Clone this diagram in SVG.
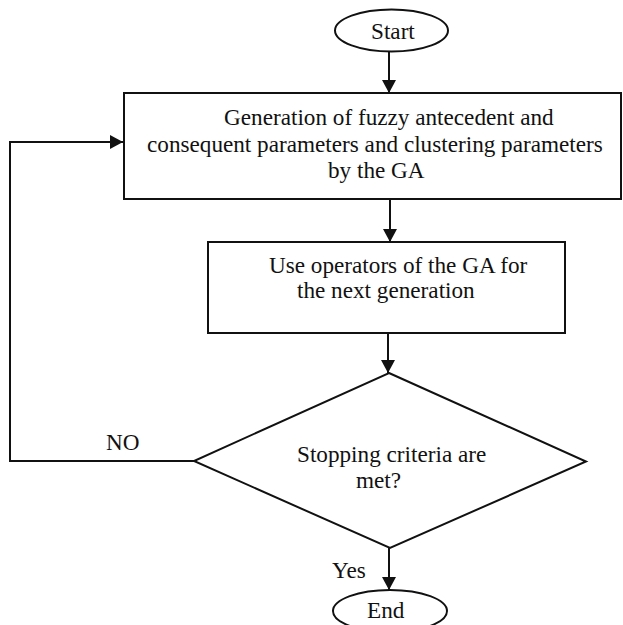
<svg xmlns="http://www.w3.org/2000/svg" width="623" height="625" viewBox="0 0 623 625">
<style>
.shape{fill:#fff;stroke:#111;stroke-width:2}
.conn{fill:none;stroke:#111;stroke-width:2}
.t{font-family:'Liberation Serif','DejaVu Serif',serif;font-size:23.2px;fill:#111}
</style>
<defs>
<marker id="arr" markerUnits="userSpaceOnUse" markerWidth="14" markerHeight="14" refX="13" refY="7" orient="auto">
<path d="M0,0 L13,7 L0,14 z" fill="#111"/>
</marker>
</defs>
<rect width="623" height="625" fill="#fff"/>
<g id="start">
<ellipse class="shape" cx="391.5" cy="30.5" rx="56.5" ry="21"/>
<text class="t" font-family="Liberation Serif" x="371" y="39">Start</text>
</g>
<g id="generate">
<rect class="shape" x="124" y="93" width="497" height="106"/>
<text class="t" font-family="Liberation Serif" x="224" y="125">Generation of fuzzy antecedent and</text>
<text class="t" font-family="Liberation Serif" x="147" y="151.5">consequent parameters and clustering parameters</text>
<text class="t" font-family="Liberation Serif" x="328" y="178">by the GA</text>
</g>
<g id="operators">
<rect class="shape" x="208" y="242" width="357" height="91"/>
<text class="t" font-family="Liberation Serif" x="269" y="273">Use operators of the GA for</text>
<text class="t" font-family="Liberation Serif" x="297" y="298">the next generation</text>
</g>
<g id="decision">
<polygon class="shape" points="389,373 586,461.5 390,548 194,461"/>
<text class="t" font-family="Liberation Serif" x="297" y="462">Stopping criteria are</text>
<text class="t" font-family="Liberation Serif" x="356" y="488">met?</text>
</g>
<g id="end">
<ellipse class="shape" cx="390" cy="611" rx="57" ry="21"/>
<text class="t" font-family="Liberation Serif" x="367" y="618">End</text>
</g>
<g id="connectors">
<line class="conn" x1="389" y1="52" x2="389" y2="93" marker-end="url(#arr)"/>
<line class="conn" x1="390" y1="199" x2="390" y2="242" marker-end="url(#arr)"/>
<line class="conn" x1="388" y1="333" x2="388" y2="373" marker-end="url(#arr)"/>
<line class="conn" x1="389" y1="548" x2="389" y2="590" marker-end="url(#arr)"/>
<path class="conn" d="M194,461 H10 V142 H123" marker-end="url(#arr)"/>
<text class="t" font-family="Liberation Serif" x="106" y="450">NO</text>
<text class="t" font-family="Liberation Serif" x="332" y="578">Yes</text>
</g>
</svg>
